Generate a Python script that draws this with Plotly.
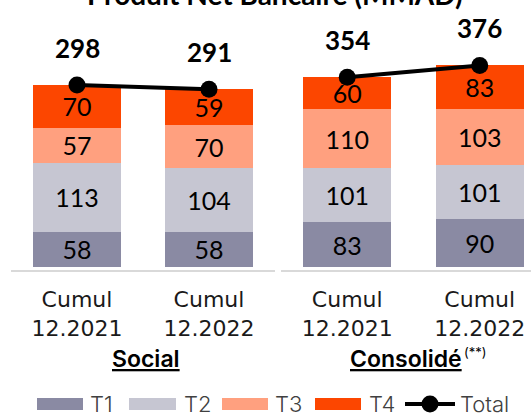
import plotly.graph_objects as go

# ---------------- data ----------------
categories = ["Cumul<br>12.2021", "Cumul<br>12.2022"]
series_names = ["T1", "T2", "T3", "T4"]

social_t1 = [58, 58]
social_t2 = [113, 104]
social_t3 = [57, 70]
social_t4 = [70, 59]
social_total = [298, 291]

conso_t1 = [83, 90]
conso_t2 = [101, 101]
conso_t3 = [110, 103]
conso_t4 = [60, 83]
conso_total = [354, 376]

group_labels = ["Social", "Consolidé"]
title_text = "Produit Net Bancaire (MMAD)"

# ---------------- style ----------------
colors = ["#8a8aa3", "#c6c6d2", "#ffa07f", "#fc4600"]
W, H = 531, 413
MT, MB = 30, 143
PH = H - MT - MB


def py(p):  # pixel row -> paper y
    return (H - MB - p) / PH


def px(p):  # pixel col -> paper x
    return p / W


fig = go.Figure()

groups = [
    ([social_t1, social_t2, social_t3, social_t4], social_total, "x", "y"),
    ([conso_t1, conso_t2, conso_t3, conso_t4], conso_total, "x2", "y2"),
]

for series, totals, xa, ya in groups:
    for name, vals, col in zip(series_names, series, colors):
        fig.add_trace(go.Bar(
            x=categories, y=vals, name=name, marker_color=col,
            marker_line_width=0,
            texttemplate="%{y}", textposition="inside",
            insidetextanchor="middle", constraintext="none",
            textangle=0,
            textfont=dict(family="Lato", size=25, color="#000000"),
            xaxis=xa, yaxis=ya, showlegend=False, hoverinfo="skip",
        ))
    fig.add_trace(go.Scatter(
        x=categories, y=totals, mode="lines+markers", name="Total",
        line=dict(color="#000000", width=4),
        marker=dict(color="#000000", size=17),
        xaxis=xa, yaxis=ya, showlegend=False, hoverinfo="skip",
    ))
    for c, t in zip(categories, totals):
        fig.add_annotation(
            x=c, y=t, xref=xa, yref=ya, yshift=37, showarrow=False,
            text=f"<b>{t}</b>",
            font=dict(family="Lato", size=26, color="#000000"),
        )

axis_common = dict(
    showline=True, linecolor="#d9d9d9", linewidth=1.5, ticks="",
    showgrid=False, zeroline=False, fixedrange=True,
    ticklabelstandoff=9,
    tickfont=dict(family="DejaVu Sans", size=22, color="#1a1a1a"),
)
yaxis_common = dict(visible=False, showgrid=False, zeroline=False, fixedrange=True)

fig.update_layout(
    width=W, height=H,
    margin=dict(l=0, r=0, t=MT, b=MB),
    paper_bgcolor="white", plot_bgcolor="white",
    barmode="stack", bargap=0.333,
    xaxis=dict(domain=[px(11), px(275)], range=[-0.5, 1.5], anchor="y", **axis_common),
    yaxis=dict(domain=[0, 1], range=[-4.9, 388], anchor="x", **yaxis_common),
    xaxis2=dict(domain=[px(281), 1.0], range=[-0.5, 1.387], anchor="y2", **axis_common),
    yaxis2=dict(domain=[0, 1], range=[-5.6, 442], anchor="x2", **yaxis_common),
    showlegend=False,
)

# title (partly cut at the top of the picture)
fig.add_annotation(
    x=px(275), y=py(13), xref="paper", yref="paper", xanchor="center", yanchor="bottom",
    showarrow=False, text=f"<b>{title_text}</b>",
    font=dict(family="Lato", size=28, color="#000000"),
)

# group labels
fig.add_annotation(
    x=px(146), y=py(359), xref="paper", yref="paper", xanchor="center", yanchor="middle",
    showarrow=False, text=f"<u>{group_labels[0]}</u>",
    font=dict(family="Inter", size=23, color="#000000", weight=600),
)
fig.add_annotation(
    x=px(406), y=py(359), xref="paper", yref="paper", xanchor="center", yanchor="middle",
    showarrow=False, text=f"<u>{group_labels[1]}</u>",
    font=dict(family="Inter", size=23, color="#000000", weight=600),
)
fig.add_annotation(
    x=px(462), y=py(352), xref="paper", yref="paper", xanchor="left", yanchor="middle",
    showarrow=False, text="(**)",
    font=dict(family="Inter", size=13, color="#000000"),
)

# custom legend
legend_items = [(37, 83, 88), (129, 176, 182), (222, 268, 273), (315, 361, 367)]
for (x0, x1, tx), name, col in zip(legend_items, series_names, colors):
    fig.add_shape(type="rect", xref="paper", yref="paper",
                  x0=px(x0), x1=px(x1), y0=py(410), y1=py(398),
                  fillcolor=col, line_width=0)
    fig.add_annotation(x=px(tx), y=py(404), xref="paper", yref="paper",
                       xanchor="left", yanchor="middle", showarrow=False, text=name,
                       font=dict(family="Inter", size=22, color="#404040", weight=300))
fig.add_shape(type="line", xref="paper", yref="paper",
              x0=px(405), x1=px(455), y0=py(404), y1=py(404),
              line=dict(color="#000000", width=4))
fig.add_shape(type="circle", xref="paper", yref="paper",
              x0=px(421.5), x1=px(438.5), y0=py(412.5), y1=py(395.5),
              fillcolor="#000000", line_width=0)
fig.add_annotation(x=px(458), y=py(404), xref="paper", yref="paper",
                   xanchor="left", yanchor="middle", showarrow=False, text="Total",
                   font=dict(family="Inter", size=22, color="#404040", weight=300))

fig.write_html("out.html", config={"displayModeBar": False},
               post_script="document.body.style.margin='0';")
